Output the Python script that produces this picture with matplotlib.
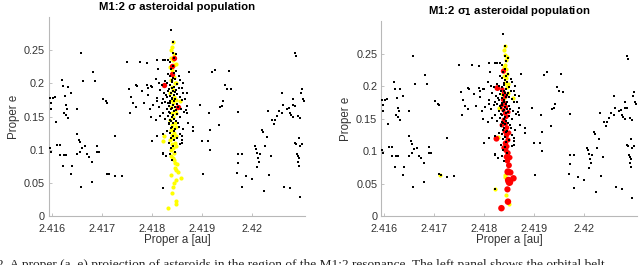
import matplotlib
matplotlib.use("Agg")
import matplotlib.pyplot as plt

plt.rcParams['font.family'] = ['Liberation Sans', 'DejaVu Sans']

# background population (black), same in both panels: (a [au], e)
bg_left = [
    (2.41659, 0.246), (2.41662, 0.204), (2.41683, 0.217), (2.41687, 0.203),
    (2.41620, 0.206), (2.41633, 0.195), (2.41638, 0.185), (2.41622, 0.196),
    (2.41627, 0.181), (2.41597, 0.178), (2.41602, 0.178), (2.41607, 0.180),
    (2.41598, 0.171), (2.41599, 0.161), (2.41608, 0.142), (2.41628, 0.167),
    (2.41631, 0.161), (2.41629, 0.153), (2.41625, 0.156), (2.41633, 0.148),
    (2.41651, 0.161), (2.41703, 0.177), (2.41709, 0.173), (2.41710, 0.171),
    (2.41750, 0.233), (2.41754, 0.191), (2.41758, 0.179), (2.41769, 0.165),
    (2.41770, 0.196), (2.41757, 0.156), (2.41777, 0.233), (2.41790, 0.231),
    (2.41792, 0.193), (2.41793, 0.183), (2.41797, 0.161), (2.41798, 0.149),
    (2.41762, 0.170), (2.41785, 0.170), (2.41780, 0.188), (2.41768, 0.197),
    (2.41790, 0.197), (2.41799, 0.196),
    (2.41597, 0.102), (2.41598, 0.097), (2.41611, 0.107), (2.41617, 0.107),
    (2.41617, 0.092), (2.41625, 0.092), (2.41629, 0.092), (2.41623, 0.076),
    (2.41640, 0.076), (2.41639, 0.063), (2.41650, 0.123), (2.41654, 0.115),
    (2.41657, 0.111), (2.41659, 0.044), (2.41661, 0.103), (2.41651, 0.093),
    (2.41657, 0.097), (2.41671, 0.093), (2.41675, 0.089), (2.41680, 0.082),
    (2.41667, 0.105), (2.41690, 0.106), (2.41691, 0.097), (2.41695, 0.097),
    (2.41680, 0.052), (2.41727, 0.120), (2.41710, 0.064), (2.41715, 0.063),
    (2.41727, 0.060), (2.41741, 0.061),
]

bg_mid = [
    (2.41810, 0.236), (2.41833, 0.236), (2.41838, 0.280), (2.41842, 0.262),
    (2.41843, 0.246), (2.41848, 0.244), (2.41822, 0.123), (2.41811, 0.120),
    (2.41800, 0.113), (2.41822, 0.095), (2.41823, 0.094), (2.41822, 0.042),
    (2.41829, 0.090), (2.41855, 0.211), (2.41857, 0.206), (2.41859, 0.161),
    (2.41860, 0.193), (2.41862, 0.186), (2.41867, 0.176), (2.41870, 0.166),
    (2.41870, 0.155), (2.41860, 0.115), (2.41860, 0.120), (2.41857, 0.108),
    (2.41882, 0.135), (2.41883, 0.128), (2.41875, 0.218), (2.41897, 0.167),
    (2.41900, 0.113), (2.41903, 0.063), (2.41914, 0.156), (2.41913, 0.113),
    (2.41917, 0.100), (2.41917, 0.130), (2.41920, 0.217), (2.41927, 0.221),
    (2.41935, 0.138), (2.41937, 0.165), (2.41940, 0.166), (2.41942, 0.173),
    (2.41947, 0.198), (2.41951, 0.192), (2.41954, 0.219), (2.41958, 0.191),
    (2.41822, 0.235), (2.41827, 0.235), (2.41813, 0.222), (2.41815, 0.200),
    (2.41820, 0.198), (2.41810, 0.178), (2.41822, 0.176), (2.41821, 0.171),
]

bg_core = [
    (2.41837, 0.232), (2.41839, 0.222), (2.41836, 0.212), (2.41840, 0.205),
    (2.41837, 0.198), (2.41835, 0.192), (2.41839, 0.186), (2.41836, 0.181),
    (2.41840, 0.176), (2.41837, 0.171), (2.41834, 0.166), (2.41839, 0.161),
    (2.41836, 0.156), (2.41840, 0.150), (2.41837, 0.145), (2.41835, 0.139),
    (2.41839, 0.133), (2.41836, 0.126), (2.41838, 0.118), (2.41835, 0.110),
    (2.41839, 0.102), (2.41837, 0.093), (2.41840, 0.085),
    (2.41844, 0.238), (2.41842, 0.226), (2.41845, 0.216), (2.41843, 0.209),
    (2.41841, 0.202), (2.41845, 0.195), (2.41842, 0.189), (2.41844, 0.183),
    (2.41841, 0.178), (2.41845, 0.173), (2.41843, 0.168), (2.41841, 0.163),
    (2.41844, 0.158), (2.41842, 0.152), (2.41845, 0.147), (2.41843, 0.141),
    (2.41841, 0.135), (2.41844, 0.129), (2.41842, 0.121), (2.41845, 0.114),
    (2.41843, 0.106), (2.41846, 0.097),
    (2.41849, 0.219), (2.41847, 0.207), (2.41850, 0.199), (2.41848, 0.190),
    (2.41851, 0.184), (2.41847, 0.176), (2.41850, 0.169), (2.41848, 0.160),
    (2.41851, 0.154), (2.41849, 0.143), (2.41847, 0.131), (2.41850, 0.117),
    (2.41832, 0.215), (2.41830, 0.200), (2.41833, 0.188), (2.41831, 0.179),
    (2.41833, 0.170), (2.41830, 0.162), (2.41832, 0.151), (2.41834, 0.140),
    (2.41831, 0.128),
    (2.41826, 0.203), (2.41824, 0.185), (2.41827, 0.172), (2.41823, 0.155),
    (2.41826, 0.146), (2.41854, 0.193), (2.41856, 0.180), (2.41853, 0.165),
    (2.41857, 0.150), (2.41854, 0.135), (2.41856, 0.124), (2.41816, 0.190),
    (2.41814, 0.165), (2.41817, 0.151), (2.41863, 0.200), (2.41861, 0.175),
    (2.41864, 0.157), (2.41862, 0.132), (2.41860, 0.110), (2.41809, 0.207),
    (2.41811, 0.173), (2.41808, 0.145), (2.41871, 0.185), (2.41869, 0.160),
    (2.41872, 0.140), (2.41801, 0.195), (2.41803, 0.168), (2.41799, 0.150),
    (2.41846, 0.187), (2.41836, 0.174), (2.41841, 0.193), (2.41834, 0.157),
    (2.41847, 0.165), (2.41839, 0.143), (2.41852, 0.140), (2.41829, 0.182),
]

bg_right = [
    (2.41972, 0.157), (2.41973, 0.094), (2.41981, 0.094), (2.41972, 0.080),
    (2.41971, 0.065), (2.41981, 0.043), (2.41988, 0.060), (2.42001, 0.056),
    (2.42006, 0.105), (2.42009, 0.101), (2.42010, 0.095), (2.42010, 0.074),
    (2.42015, 0.081), (2.42013, 0.087), (2.42017, 0.094), (2.42025, 0.037),
    (2.42020, 0.130), (2.42022, 0.127), (2.42027, 0.105), (2.42031, 0.119),
    (2.42035, 0.062), (2.42033, 0.158), (2.42038, 0.091), (2.42040, 0.145),
    (2.42045, 0.139), (2.42047, 0.145), (2.42050, 0.151), (2.42054, 0.159),
    (2.42060, 0.185), (2.42061, 0.156), (2.42063, 0.167), (2.42065, 0.044),
    (2.42070, 0.162), (2.42075, 0.163), (2.42077, 0.042), (2.42082, 0.176),
    (2.42077, 0.156), (2.42078, 0.152), (2.42083, 0.150), (2.42087, 0.246),
    (2.42088, 0.242), (2.42087, 0.110), (2.42089, 0.108), (2.42090, 0.094),
    (2.42092, 0.091), (2.42094, 0.087), (2.42095, 0.075), (2.42092, 0.082),
    (2.42094, 0.118), (2.42097, 0.105), (2.42101, 0.108), (2.42097, 0.028),
    (2.42100, 0.191), (2.42099, 0.185), (2.42102, 0.176), (2.42105, 0.173),
    (2.42097, 0.148), (2.42093, 0.151), (2.42083, 0.167), (2.42087, 0.166),
]

# sigma population, left panel
yellow_sigma = [
    (2.41843, 0.262), (2.41841, 0.255), (2.41844, 0.244), (2.41842, 0.235),
    (2.41845, 0.228), (2.41841, 0.220), (2.41844, 0.210), (2.41846, 0.200),
    (2.41842, 0.190), (2.41845, 0.180), (2.41842, 0.170), (2.41846, 0.160),
    (2.41843, 0.150), (2.41846, 0.140), (2.41842, 0.132), (2.41845, 0.125),
    (2.41843, 0.118), (2.41846, 0.110), (2.41842, 0.103), (2.41845, 0.095),
    (2.41843, 0.088), (2.41846, 0.080), (2.41838, 0.250), (2.41839, 0.238),
    (2.41837, 0.225), (2.41839, 0.205), (2.41837, 0.185), (2.41839, 0.165),
    (2.41837, 0.145), (2.41839, 0.130), (2.41837, 0.115), (2.41839, 0.100),
    (2.41838, 0.090), (2.41848, 0.230), (2.41849, 0.200), (2.41848, 0.175),
    (2.41849, 0.155), (2.41848, 0.135), (2.41849, 0.120), (2.41848, 0.105),
    (2.41841, 0.215), (2.41840, 0.195), (2.41840, 0.175), (2.41841, 0.155),
    (2.41840, 0.138), (2.41841, 0.122), (2.41840, 0.108), (2.41844, 0.085),
    (2.41825, 0.120), (2.41823, 0.113), (2.41839, 0.062), (2.41850, 0.078),
    (2.41853, 0.067), (2.41859, 0.058), (2.41848, 0.055), (2.41845, 0.050),
    (2.41843, 0.044), (2.41840, 0.035), (2.41848, 0.022), (2.41848, 0.018),
    (2.41833, 0.012), (2.41857, 0.173), (2.41848, 0.070), (2.41846, 0.073),
]
red_sigma = [(2.41845, 0.239), (2.41840, 0.227), (2.41841, 0.214),
             (2.41825, 0.197), (2.41853, 0.164)]

# sigma_1 population, right panel
yellow_sigma1 = [
    (2.41842, 0.262), (2.41841, 0.255), (2.41843, 0.248), (2.41845, 0.240),
    (2.41842, 0.233), (2.41844, 0.226), (2.41847, 0.219), (2.41845, 0.212),
    (2.41843, 0.205), (2.41846, 0.198), (2.41848, 0.190), (2.41836, 0.188),
    (2.41840, 0.182), (2.41712, 0.063), (2.41822, 0.041), (2.41830, 0.167),
    (2.41828, 0.122), (2.41843, 0.063), (2.41842, 0.060), (2.41845, 0.033),
    (2.41850, 0.018), (2.41858, 0.181), (2.41840, 0.229), (2.41846, 0.245),
    (2.41841, 0.216), (2.41848, 0.203),
]
red_sigma1 = [
    (2.41839, 0.223), (2.41827, 0.197), (2.41825, 0.119), (2.41835, 0.012),
    (2.41848, 0.022), (2.41847, 0.041), (2.41851, 0.052), (2.41849, 0.055),
    (2.41859, 0.058), (2.41848, 0.068), (2.41853, 0.067), (2.41850, 0.078),
    (2.41847, 0.085), (2.41845, 0.091), (2.41848, 0.097), (2.41844, 0.101),
    (2.41846, 0.107), (2.41843, 0.112), (2.41848, 0.117), (2.41845, 0.124),
    (2.41842, 0.130), (2.41846, 0.136), (2.41843, 0.142), (2.41840, 0.148),
    (2.41845, 0.153), (2.41842, 0.158), (2.41839, 0.163), (2.41844, 0.168),
    (2.41841, 0.174), (2.41838, 0.179), (2.41843, 0.184), (2.41840, 0.190),
    (2.41837, 0.195), (2.41842, 0.186), (2.41836, 0.170), (2.41849, 0.160),
    (2.41836, 0.140), (2.41850, 0.128), (2.41840, 0.105), (2.41852, 0.090),
]
red_sigma1_size = [
    14, 18, 18, 22, 22, 20, 30, 26, 22, 26, 20, 18, 16, 16, 16, 14, 14, 16, 14,
    14, 12, 12, 12, 12, 12, 10, 10, 10, 10, 10, 10, 10, 10, 10, 10, 10, 12, 12,
    14, 14,
]

xticks = [2.416, 2.417, 2.418, 2.419, 2.42]
xticklabels = ['2.416', '2.417', '2.418', '2.419', '2.42']
yticks = [0, 0.05, 0.1, 0.15, 0.2, 0.25]
yticklabels = ['0', '0.05', '0.1', '0.15', '0.2', '0.25']

background = bg_left + bg_mid + bg_core + bg_right


def xy(pts):
    return [p[0] for p in pts], [p[1] for p in pts]


def setup(ax, title):
    ax.set_xlim(2.41595, 2.42107)
    ax.set_ylim(0, 0.3)
    ax.set_xticks(xticks)
    ax.set_xticklabels(xticklabels)
    ax.set_yticks(yticks)
    ax.set_yticklabels(yticklabels)
    for s in ['top', 'right']:
        ax.spines[s].set_visible(False)
    for s in ['left', 'bottom']:
        ax.spines[s].set_color('#b8b8b8')
        ax.spines[s].set_linewidth(0.8)
    ax.tick_params(direction='in', length=2.5, width=0.6, color='#b8b8b8',
                   labelsize=7.8, labelcolor='#333333')
    ax.tick_params(axis='x', pad=6)
    ax.tick_params(axis='y', pad=3)
    ax.set_xlabel('Proper a [au]', fontsize=8.3, color='#333333', labelpad=0)
    ax.set_ylabel('Proper e', fontsize=8.3, color='#333333', labelpad=3)
    ax.set_title(title, fontsize=8.2, fontweight='bold', pad=5)


fig = plt.figure(figsize=(6.4, 2.65), dpi=100)
ax1 = fig.add_axes([0.077, 0.185, 0.40, 0.75])
ax2 = fig.add_axes([0.596, 0.185, 0.40, 0.735])

bx, by = xy(background)

x, y = xy(yellow_sigma)
ax1.scatter(x, y, s=9, c='#ffff00', marker='o', linewidths=0, zorder=2)
x, y = xy(red_sigma)
ax1.scatter(x, y, s=15, c='#ff0000', marker='o', linewidths=0, zorder=3)
ax1.scatter(bx, by, s=2.0, c='black', marker='s', linewidths=0, zorder=4)
setup(ax1, 'M1:2 σ asteroidal population')

x, y = xy(yellow_sigma1)
ax2.scatter(x, y, s=9, c='#ffff00', marker='o', linewidths=0, zorder=2)
x, y = xy(red_sigma1)
ax2.scatter(x, y, s=red_sigma1_size, c='#ff0000', marker='o', linewidths=0,
            zorder=3)
ax2.scatter(bx, by, s=2.0, c='black', marker='s', linewidths=0, zorder=4)
setup(ax2, 'M1:2 σ$_\\mathbf{1}$ asteroidal population')

# caption, cut off by the bottom of the image
fig.text(-0.004, -0.012, '2. A proper (a, e) projection of asteroids in the region of the '
         'M1:2 resonance. The left panel shows the orbital belt',
         fontsize=9.6, family=['Liberation Serif', 'DejaVu Serif'],
         color='#222222', va='baseline', ha='left')

fig.savefig('out.png', dpi=100)
